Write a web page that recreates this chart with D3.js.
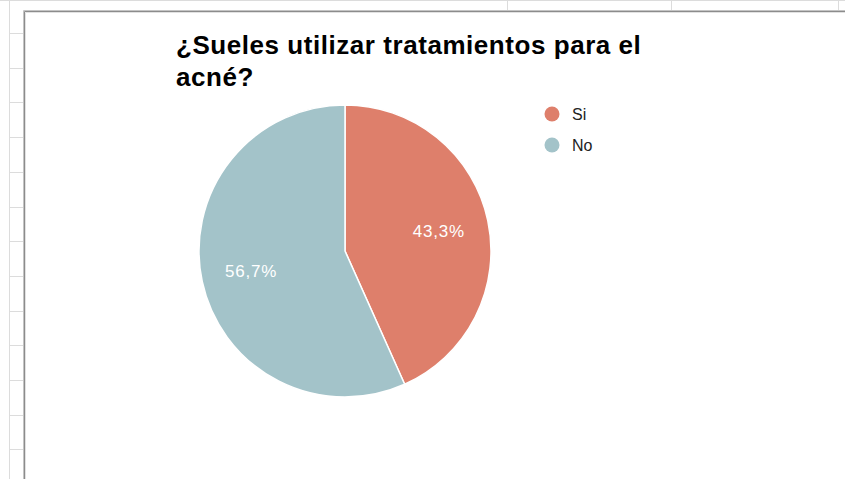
<!DOCTYPE html>
<html>
<head>
<meta charset="utf-8">
<script src="https://cdn.jsdelivr.net/npm/d3@7/dist/d3.min.js"></script>
<style>
  html, body { margin: 0; padding: 0; background: #fff; }
  svg { display: block; font-family: Arial, "Liberation Sans", sans-serif; }
</style>
</head>
<body>
<svg id="chart" width="845" height="479"></svg>
<script>
// Survey answers
const categories = ["Si", "No"];
const values = [43.3, 56.7];
const colors = ["#de7f6b", "#a3c3c9"];
const titleLines = ["¿Sueles utilizar tratamientos para el", "acné?"];

const W = 845, H = 479;
const svg = d3.select("#chart");

// Spreadsheet backdrop: cell grid around the embedded chart
const grid = svg.append("g").attr("stroke", "#dcdcdc").attr("stroke-width", 1);
grid.append("line").attr("x1", 0).attr("x2", W).attr("y1", 0.5).attr("y2", 0.5);
grid.append("line").attr("x1", 9.5).attr("x2", 9.5).attr("y1", 0).attr("y2", H);
for (let y = 33; y < H; y += 34.7) {
  grid.append("line").attr("x1", 9).attr("x2", 24)
    .attr("y1", Math.round(y) + 0.5).attr("y2", Math.round(y) + 0.5);
}
[507, 671, 838].forEach(x => {
  grid.append("line").attr("x1", x + 0.5).attr("x2", x + 0.5).attr("y1", 0).attr("y2", 11);
});

// Chart frame
svg.append("rect").attr("x", 24).attr("y", 11).attr("width", W - 24).attr("height", H - 11)
  .attr("fill", "#fff");
const frame = svg.append("g").attr("fill", "none");
frame.append("path").attr("d", `M23.5,${H} V10.5 H${W}`).attr("stroke", "#c4c4c4").attr("stroke-width", 1);
frame.append("path").attr("d", `M24.5,${H} V11.5 H${W}`).attr("stroke", "#8c8c8c").attr("stroke-width", 1);
frame.append("path").attr("d", `M25.5,${H} V12.5 H${W}`).attr("stroke", "#e2e2e2").attr("stroke-width", 1);

// Title
const title = svg.append("text").attr("x", 176).attr("y", 54)
  .attr("font-size", 26).attr("font-weight", "bold").attr("fill", "#000")
  .attr("letter-spacing", 0.55);
titleLines.forEach((t, i) => {
  title.append("tspan").attr("x", 176).attr("dy", i === 0 ? 0 : 32).text(t);
});

// Pie
const cx = 345, cy = 251, r = 146;
const pie = d3.pie().sort(null).value(d => d.value);
const data = categories.map((c, i) => ({ name: c, value: values[i], color: colors[i] }));
const arcs = pie(data);
const arc = d3.arc().innerRadius(0).outerRadius(r);
const labelArc = d3.arc().innerRadius(96).outerRadius(96);

const g = svg.append("g").attr("transform", `translate(${cx},${cy})`);
g.selectAll("path.slice").data(arcs).join("path")
  .attr("class", "slice")
  .attr("d", arc)
  .attr("fill", d => d.data.color)
  .attr("stroke", "#fff")
  .attr("stroke-width", 1.5)
  .attr("stroke-linejoin", "round");

const fmt = v => v.toFixed(1).replace(".", ",") + "%";
g.selectAll("text.lbl").data(arcs).join("text")
  .attr("class", "lbl")
  .attr("transform", d => `translate(${labelArc.centroid(d)})`)
  .attr("text-anchor", "middle")
  .attr("dy", "0.36em")
  .attr("font-size", 17)
  .attr("letter-spacing", 0.8)
  .attr("fill", "#fff")
  .text(d => fmt(d.data.value));

// Legend
const legend = svg.append("g").attr("transform", "translate(552,114)");
const items = legend.selectAll("g").data(data).join("g")
  .attr("transform", (d, i) => `translate(0,${i * 31})`);
items.append("circle").attr("r", 7.5).attr("fill", d => d.color);
items.append("text").attr("x", 20).attr("dy", "0.36em")
  .attr("font-size", 16).attr("fill", "#222").text(d => d.name);
</script>
</body>
</html>
